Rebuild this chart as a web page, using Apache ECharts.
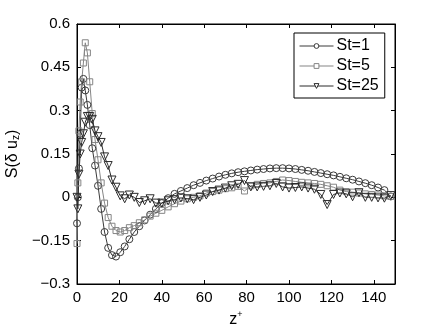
<!DOCTYPE html>
<html>
<head>
<meta charset="utf-8">
<script src="https://cdn.jsdelivr.net/npm/echarts@6/dist/echarts.min.js"></script>
<style>
  html, body { margin: 0; padding: 0; background: #fff; }
  #chart { width: 436px; height: 327px; }
</style>
</head>
<body>
<div id="chart"></div>
<script>
// wall distance z+ (shared by all three runs)
const zPlus = [0, 0.4, 0.9, 1.5, 2.2, 3.0, 3.9, 4.9, 6.0, 7.2, 8.5, 9.9, 11.4, 13.0, 14.7, 16.5, 18.4, 20.4,
  22.5, 24.7, 27.0, 29.4, 31.9, 34.5, 37.2, 40, 43, 46, 49, 52, 55, 58, 61, 64, 67, 70, 73, 76, 79, 82,
  85, 88, 91, 94, 97, 100, 103, 106, 109, 112, 115, 118, 121, 124, 127, 130, 133, 136, 139, 142, 145, 148];

const st1 = [-0.09, 0.0, 0.1, 0.22, 0.38, 0.41, 0.37, 0.32, 0.25, 0.17, 0.11, 0.04, -0.04, -0.12, -0.175, -0.2, -0.205, -0.19,
  -0.17, -0.145, -0.12, -0.1, -0.08, -0.06, -0.04, -0.02, -0.003, 0.012, 0.022, 0.032, 0.042, 0.05, 0.058, 0.065, 0.072, 0.078, 0.083, 0.087, 0.09, 0.093,
  0.096, 0.098, 0.1, 0.101, 0.101, 0.1, 0.098, 0.095, 0.092, 0.088, 0.084, 0.08, 0.076, 0.071, 0.066, 0.061, 0.055, 0.049, 0.042, 0.034, 0.025, 0.003];

const st5 = [-0.16, 0.05, 0.23, 0.33, 0.4, 0.465, 0.535, 0.5, 0.4, 0.29, 0.2, 0.13, 0.05, -0.02, -0.07, -0.1, -0.115, -0.12,
  -0.115, -0.105, -0.098, -0.088, -0.078, -0.065, -0.055, -0.045, -0.033, -0.022, -0.013, -0.005, 0.0, 0.005, 0.015, 0.02, 0.025, 0.03, 0.033, 0.038, 0.022, 0.04,
  0.045, 0.048, 0.05, 0.055, 0.06, 0.058, 0.055, 0.052, 0.05, 0.048, 0.045, 0.04, 0.035, 0.025, 0.02, 0.018, 0.015, 0.012, 0.01, 0.008, 0.005, 0.003];

const st25 = [0.0, -0.04, 0.08, 0.15, 0.19, 0.22, 0.26, 0.28, 0.28, 0.27, 0.23, 0.21, 0.19, 0.14, 0.11, 0.06, 0.035, 0.005,
  -0.005, 0.008, 0.0, -0.018, -0.012, -0.005, -0.02, -0.02, -0.012, -0.008, -0.002, -0.005, -0.008, 0.0, 0.008, 0.02, 0.025, 0.032, 0.04, 0.045, 0.058, 0.036,
  0.036, 0.038, 0.04, 0.048, 0.036, 0.032, 0.034, 0.036, 0.032, 0.028, 0.01, -0.025, 0.01, 0.015, 0.012, 0.002, 0.016, 0.0, 0.0, -0.002, -0.003, 0.006];

const seriesNames = ['St=1', 'St=5', 'St=25'];

const FONT = 'Liberation Sans, Arial, sans-serif';

const pairs = (ys) => zPlus.map((x, i) => [x, ys[i]]);

const fmtY = (v) => {
  const n = parseFloat(Number(v).toFixed(2));
  return n < 0 ? '\u2212' + String(-n) : String(n);
};

const chart = echarts.init(document.getElementById('chart'), null, { renderer: 'canvas' });

const lineSeries = (name, data, color, symbol, size, rotate) => ({
  name,
  type: 'line',
  data,
  symbol,
  symbolSize: size,
  symbolRotate: rotate,
  showAllSymbol: true,
  animation: false,
  lineStyle: { color, width: 1 },
  itemStyle: { color: 'rgba(0,0,0,0)', borderColor: color, borderWidth: 1 },
  emphasis: { disabled: true },
});

// box axes: ticks inside, no onZero
const boxAxis = (extra) => Object.assign({
  type: 'value',
  axisLine: { show: true, onZero: false, lineStyle: { color: '#000' } },
  axisTick: { inside: true, length: 4, lineStyle: { color: '#000' } },
  splitLine: { show: false },
}, extra);

chart.setOption({
  animation: false,
  textStyle: { fontFamily: FONT },
  grid: {
    left: 77,
    right: 41,
    top: 24,
    bottom: 43,
    outerBoundsMode: 'none',
    containLabel: false,
    show: true,
    borderColor: '#000',
    borderWidth: 1,
  },
  legend: {
    orient: 'vertical',
    left: 294,
    top: 33,
    padding: [5, 6, 4, 5],
    itemGap: 4,
    itemWidth: 34,
    itemHeight: 6,
    borderColor: '#000',
    borderWidth: 1,
    backgroundColor: '#fff',
    lineStyle: { width: 1 },
    itemStyle: { color: '#fff', borderWidth: 1 },
    textStyle: { fontSize: 16, color: '#000', fontFamily: FONT, padding: [0, 0, 0, -2] },
    data: seriesNames,
  },
  xAxis: [
    boxAxis({
      min: 0,
      max: 150,
      interval: 20,
      name: 'z{sup|+}',
      nameLocation: 'middle',
      nameGap: 13,
      nameTextStyle: {
        fontSize: 16,
        color: '#000',
        rich: { sup: { fontSize: 9, verticalAlign: 'top', padding: [0, 0, 10, 0], color: '#000' } },
      },
      axisLabel: {
        fontSize: 15,
        color: '#000',
        margin: 6,
        formatter: (v) => (v > 140 ? '' : String(v)),
      },
    }),
    boxAxis({
      position: 'top',
      min: 0,
      max: 150,
      interval: 20,
      axisLabel: { show: false },
    }),
  ],
  yAxis: [
    boxAxis({
      min: -0.3,
      max: 0.6,
      interval: 0.15,
      name: 'S(\u03b4 u{sub|z})',
      nameLocation: 'middle',
      nameGap: 35,
      nameRotate: 90,
      nameTextStyle: {
        fontSize: 16,
        color: '#000',
        rich: { sub: { fontSize: 10, verticalAlign: 'bottom', padding: [8, 0, 0, 0], color: '#000' } },
      },
      axisLabel: { fontSize: 15, color: '#000', margin: 7, formatter: fmtY },
    }),
    boxAxis({
      position: 'right',
      min: -0.3,
      max: 0.6,
      interval: 0.15,
      axisLabel: { show: false },
    }),
  ],
  series: [
    lineSeries('St=1', pairs(st1), '#3a3a3a', 'circle', 7, 0),
    lineSeries('St=5', pairs(st5), '#858585', 'rect', 6, 0),
    lineSeries('St=25', pairs(st25), '#2a2a2a', 'triangle', 8, 180),
  ],
});
</script>
</body>
</html>
